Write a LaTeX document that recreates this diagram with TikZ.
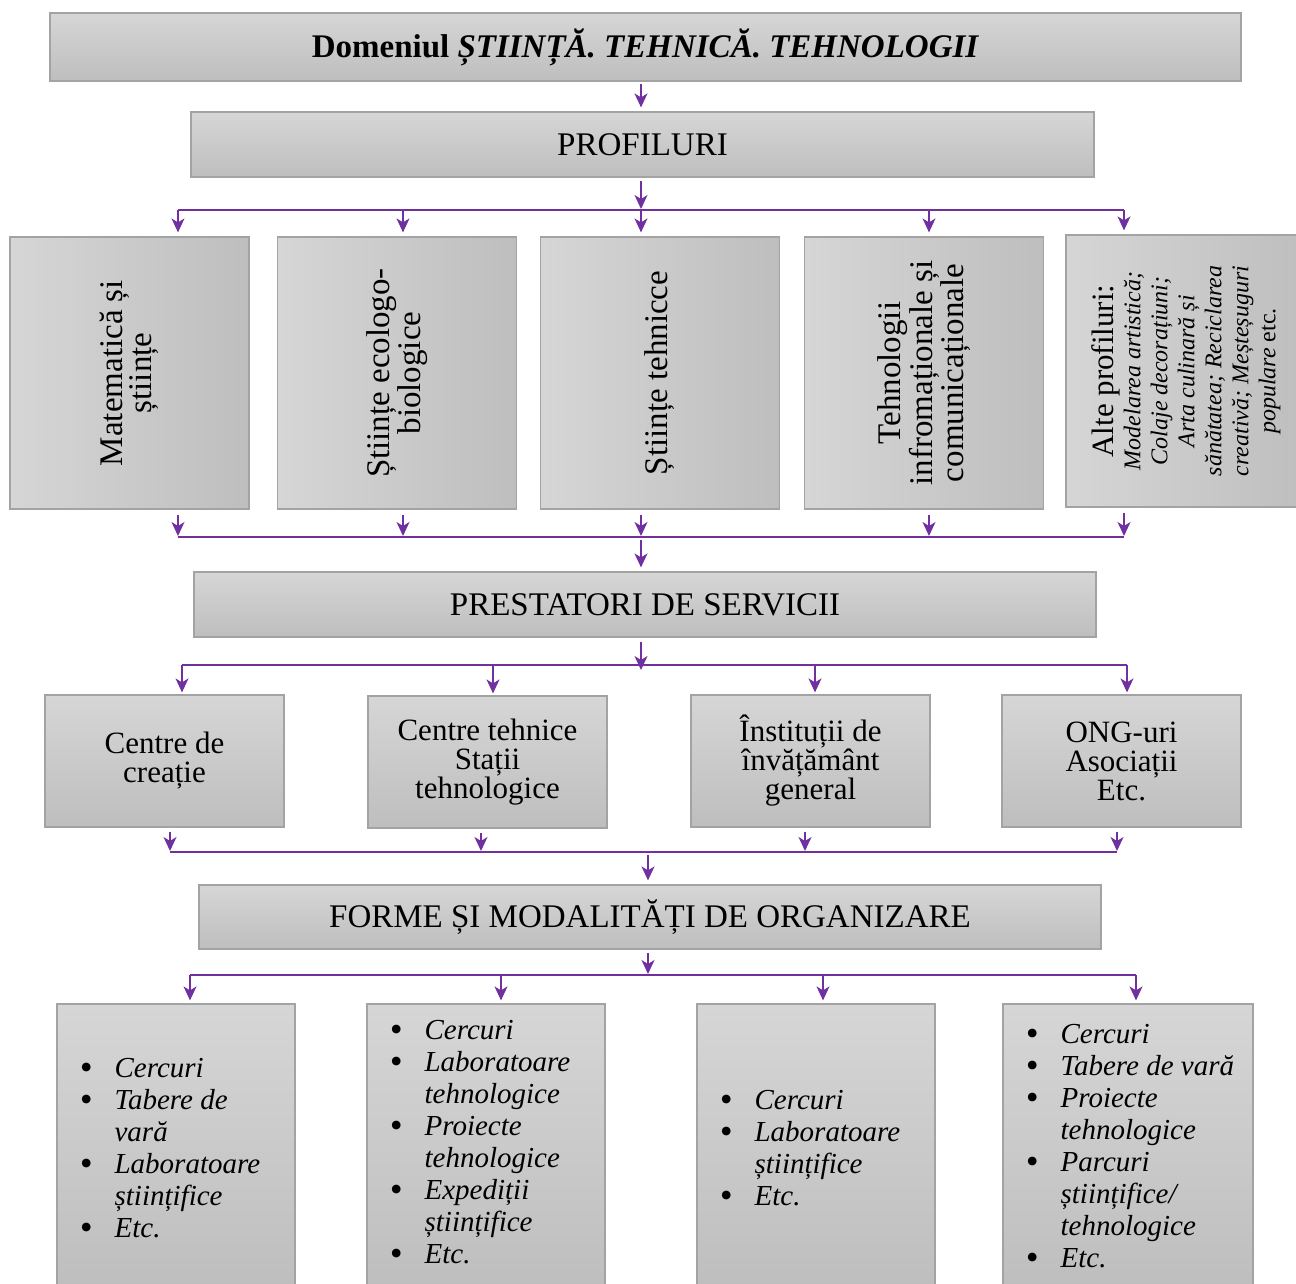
\documentclass[tikz,border=0pt]{standalone}
\usepackage{fontspec}
\setmainfont{Liberation Serif}
\usetikzlibrary{arrows.meta}
\definecolor{linkviolet}{HTML}{7030A0}
\definecolor{boxtop}{HTML}{D6D6D6}
\definecolor{boxbot}{HTML}{BEBEBE}
\definecolor{boxline}{HTML}{A3A3A3}
\newcommand{\txtmain}{\fontsize{33}{29}\selectfont}
\newcommand{\txtrow}{\fontsize{31}{29}\selectfont}
\newcommand{\txtlist}{\fontsize{29}{32}\selectfont\itshape}
\newcommand{\txtnote}{\fontsize{24}{27}\selectfont\itshape}
\newcommand{\bul}{\raisebox{-0.1ex}{\scalebox{1.25}{\textbullet}}}
\tikzset{
  cell/.style={draw=boxline,line width=1.2pt,inner sep=0pt,align=center,font=\txtmain},
  hbox/.style={cell,top color=boxtop,bottom color=boxbot},
  cbox/.style={hbox,font=\txtrow,minimum width=239pt,minimum height=132pt},
  vbox/.style={cell,left color=boxtop,right color=boxbot,minimum width=239pt,minimum height=272pt},
  vtext/.style={rotate=90,align=flush center,font=\txtmain,text width=250pt},
  lbox/.style={hbox,minimum width=238pt,minimum height=283pt},
  ltext/.style={anchor=west,inner sep=0pt,font=\txtlist},
  arr/.style={draw=linkviolet,line width=1.4pt,-{Stealth[length=14pt,width=13pt,inset=4pt]}},
  bus/.style={draw=linkviolet,line width=2.2pt}
}
\begin{document}
\begin{tikzpicture}[x=1pt,y=-1pt]
  \useasboundingbox (0,0) rectangle (1296,1283);
  \node[hbox,minimum width=1191pt,minimum height=68pt] (title) at (645.5,47)
    {\textbf{Domeniul \textit{ȘTIINȚĂ. TEHNICĂ. TEHNOLOGII}}};
  \node[hbox,minimum width=903pt,minimum height=65pt] (prof) at (642.5,144.5) {PROFILURI};
  % profiluri
  \node[vbox] (p1) at (129.5,373) {};
  \node[vbox] (p2) at (397,373) {};
  \node[vbox] (p3) at (660,373) {};
  \node[vbox] (p4) at (924,373) {};
  \node[vbox,minimum width=240pt] (p5) at (1186,371) {};
  \node[vtext] (t1) at (p1) {Matematică și\\științe};
  \node[vtext] (t2) at (p2) {Științe ecologo-\\biologice};
  \node[vtext] (t3) at (p3) {Științe tehnicce};
  \node[vtext] (t4) at (p4) {Tehnologii\\infromaționale și\\comunicaționale};
  \node[vtext] (t5) at (p5) {{\fontsize{31}{30}\selectfont Alte profiluri:\par}
    {\txtnote Modelarea artistică;\\Colaje decorațiuni;\\Arta culinară și\\sănătatea; Reciclarea\\creativă; Meșteșuguri\\populare \textup{etc.}\par}};
  \node[hbox,minimum width=902pt,minimum height=65pt] (prest) at (645,604.5) {PRESTATORI DE SERVICII};
  % prestatori
  \node[cbox] (c1) at (164.5,761) {Centre de\\creație};
  \node[cbox] (c2) at (487.5,762) {Centre tehnice\\Stații\\tehnologice};
  \node[cbox] (c3) at (810.5,761) {Înstituții de\\învățământ\\general};
  \node[cbox] (c4) at (1121.5,761) {ONG-uri\\Asociații\\Etc.};
  \node[hbox,minimum width=902pt,minimum height=64pt] (forme) at (650,917) {FORME ȘI MODALITĂȚI DE ORGANIZARE};
  % forme
  \node[lbox] (f1) at (176,1145.5) {};
  \node[lbox] (f2) at (486,1145.5) {};
  \node[lbox] (f3) at (816,1145.5) {};
  \node[lbox,minimum width=250pt] (f4) at (1128,1145.5) {};
  \node[ltext] (l1) at ([xshift=23pt,yshift=-6pt]f1.west)
    {\begin{tabular}{@{}p{35pt}@{}l@{}}\bul & Cercuri\\ \bul & Tabere de\\ & vară\\
     \bul & Laboratoare\\ & științifice\\ \bul & Etc.\end{tabular}};
  \node[ltext] (l2) at ([xshift=23pt,yshift=0pt]f2.west)
    {\begin{tabular}{@{}p{35pt}@{}l@{}}\bul & Cercuri\\ \bul & Laboratoare\\ & tehnologice\\
     \bul & Proiecte\\ & tehnologice\\ \bul & Expediții\\ & științifice\\ \bul & Etc.\end{tabular}};
  \node[ltext] (l3) at ([xshift=23pt,yshift=-6pt]f3.west)
    {\begin{tabular}{@{}p{35pt}@{}l@{}}\bul & Cercuri\\ \bul & Laboratoare\\ & științifice\\
     \bul & Etc.\end{tabular}};
  \node[ltext] (l4) at ([xshift=23pt,yshift=-4pt]f4.west)
    {\begin{tabular}{@{}p{35pt}@{}l@{}}\bul & Cercuri\\ \bul & Tabere de vară\\
     \bul & Proiecte\\ & tehnologice\\ \bul & Parcuri\\ & științifice/\\ & tehnologice\\
     \bul & Etc.\end{tabular}};
  % conectori
  \foreach \x [count=\i] in {178,403,641,929,1124} {
    \coordinate (u\i) at (\x,210);
    \coordinate (v\i) at (\x,537);
  }
  \foreach \x [count=\i] in {182,493,815,1127} \coordinate (w\i) at (\x,665);
  \foreach \x [count=\i] in {170,481,805,1117} \coordinate (s\i) at (\x,852);
  \foreach \x [count=\i] in {190,501,823,1136} \coordinate (r\i) at (\x,975);
  \coordinate (s0) at (648,852);
  \coordinate (r0) at (648,975);
  \draw[arr,shorten <=2pt,shorten >=4pt] (title.south -| u3) -- (prof.north -| u3);
  \draw[arr,shorten <=3pt,shorten >=1pt] (prof.south -| u3) -- (u3);
  \foreach \i in {1,...,5} {
    \draw[arr,shorten >=4pt] (u\i) -- (u\i |- p\i.north);
    \draw[arr,shorten <=5pt,shorten >=1pt] (p\i.south -| v\i) -- (v\i);
  }
  \draw[arr,shorten <=3pt,shorten >=4pt] (v3) -- (v3 |- prest.north);
  \draw[arr,shorten <=4pt,shorten >=-5pt] (prest.south -| v3) -- (v3 |- w1);
  \foreach \i in {1,...,4} {
    \draw[arr,shorten >=2pt] (w\i) -- (w\i |- c\i.north);
    \draw[arr,shorten <=4pt,shorten >=1pt] (c\i.south -| s\i) -- (s\i);
    \draw[arr,shorten >=3pt] (r\i) -- (r\i |- f\i.north);
  }
  \draw[arr,shorten <=3pt,shorten >=4pt] (s0) -- (s0 |- forme.north);
  \draw[arr,shorten <=3pt,shorten >=1pt] (forme.south -| r0) -- (r0);
  \draw[bus] (u1) -- (u5);
  \draw[bus] (v1) -- (v5);
  \draw[bus] (w1) -- (w4);
  \draw[bus] (s1) -- (s4);
  \draw[bus] (r1) -- (r4);
\end{tikzpicture}
\end{document}
